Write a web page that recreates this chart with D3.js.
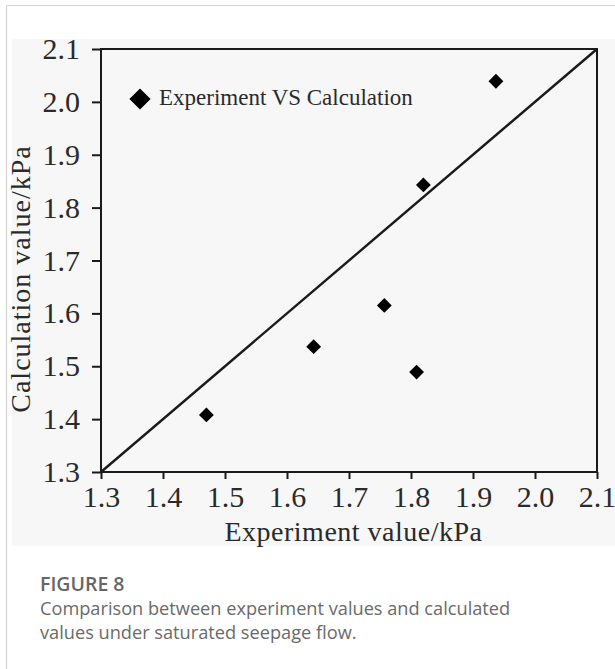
<!DOCTYPE html>
<html>
<head>
<meta charset="utf-8">
<script src="https://cdn.jsdelivr.net/npm/d3@7"></script>
<style>
  html, body { margin: 0; padding: 0; background: #fff; }
  svg { display: block; }
  .tick text { font-family: "Liberation Serif", "Times New Roman", serif; fill: #2a2a2a; }
</style>
</head>
<body>
<div id="vis"></div>
<script>
// data
var experiment  = [1.470, 1.643, 1.757, 1.809, 1.820, 1.937];
var calculation = [1.408, 1.537, 1.615, 1.489, 1.843, 2.039];
var tickValues  = [1.3, 1.4, 1.5, 1.6, 1.7, 1.8, 1.9, 2.0, 2.1];
var lineEnds    = [1.3, 2.1];
var legendLabel = "Experiment VS Calculation";
var xTitle = "Experiment value/kPa";
var yTitle = "Calculation value/kPa";
var captionHead = "FIGURE 8";
var captionLines = ["Comparison between experiment values and calculated",
                    "values under saturated seepage flow."];

var width = 615, height = 669;
var ink = "#1a1a1a";

var svg = d3.select("#vis").append("svg")
    .attr("width", width)
    .attr("height", height);

// page frame lines + grey figure panel
svg.append("line").attr("x1", 6.5).attr("x2", width).attr("y1", 5.5).attr("y2", 5.5)
    .attr("stroke", "#d2d2d2").attr("stroke-width", 1.2);
svg.append("line").attr("x1", 6.5).attr("x2", 6.5).attr("y1", 5.5).attr("y2", height)
    .attr("stroke", "#d2d2d2").attr("stroke-width", 1.2);
svg.append("rect").attr("x", 12).attr("y", 39).attr("width", width - 12).attr("height", 507)
    .attr("fill", "#f7f7f7");

var x = d3.scaleLinear().domain([1.3, 2.1]).range([101, 597]);
var y = d3.scaleLinear().domain([1.3, 2.1]).range([472, 49]);

var g = svg.append("g");

// x axis
var xAxis = g.append("g")
    .attr("transform", "translate(0," + y(1.3) + ")")
    .call(d3.axisBottom(x).tickValues(tickValues).tickFormat(d3.format(".1f"))
        .tickSize(7).tickSizeOuter(0).tickPadding(7));
xAxis.selectAll(".tick text").style("font-size", "30px");

// y axis
var yAxis = g.append("g")
    .attr("transform", "translate(" + x(1.3) + ",0)")
    .call(d3.axisLeft(y).tickValues(tickValues).tickFormat(d3.format(".1f"))
        .tickSize(9).tickSizeOuter(0).tickPadding(12));
yAxis.selectAll(".tick text").style("font-size", "30px");

g.selectAll(".domain").remove();
g.selectAll(".tick line").attr("stroke", ink).attr("stroke-width", 2);

// plot frame
g.append("rect")
    .attr("x", x(1.3)).attr("y", y(2.1))
    .attr("width", x(2.1) - x(1.3)).attr("height", y(1.3) - y(2.1))
    .attr("fill", "none").attr("stroke", ink).attr("stroke-width", 2);

// 1:1 line
g.append("line")
    .attr("x1", x(lineEnds[0])).attr("y1", y(lineEnds[0]))
    .attr("x2", x(lineEnds[1])).attr("y2", y(lineEnds[1]))
    .attr("stroke", ink).attr("stroke-width", 2.4);

// points
var diamond = d3.symbol().type(d3.symbolSquare).size(110);
g.selectAll(".pt").data(experiment).enter()
    .append("path")
    .attr("class", "pt")
    .attr("d", diamond)
    .attr("fill", "#000")
    .attr("transform", function(d, i){ return "translate(" + x(d) + "," + y(calculation[i]) + ") rotate(45)"; });

// legend
g.append("path")
    .attr("d", d3.symbol().type(d3.symbolSquare).size(225))
    .attr("fill", "#000")
    .attr("transform", "translate(140,99) rotate(45)");
g.append("text")
    .attr("x", 159).attr("y", 105)
    .style("font-family", "'Liberation Serif', 'Times New Roman', serif")
    .style("font-size", "23px")
    .attr("fill", "#2a2a2a")
    .text(legendLabel);

// axis titles
g.append("text")
    .attr("x", 353.5).attr("y", 541)
    .attr("text-anchor", "middle")
    .style("font-family", "'Liberation Serif', 'Times New Roman', serif")
    .style("font-size", "28px")
    .style("letter-spacing", "0.5px")
    .attr("fill", "#2a2a2a")
    .text(xTitle);
g.append("text")
    .attr("transform", "translate(30,279) rotate(-90)")
    .attr("text-anchor", "middle")
    .style("font-family", "'Liberation Serif', 'Times New Roman', serif")
    .style("font-size", "28px")
    .style("letter-spacing", "1px")
    .attr("fill", "#2a2a2a")
    .text(yTitle);

// caption
svg.append("text")
    .attr("x", 40).attr("y", 591)
    .style("font-family", "'Open Sans', sans-serif")
    .style("font-size", "19.5px")
    .style("font-weight", "600")
    .attr("fill", "#666")
    .text(captionHead);
svg.selectAll(".cap").data(captionLines).enter()
    .append("text")
    .attr("class", "cap")
    .attr("x", 40)
    .attr("y", function(d, i){ return 615 + i * 23.5; })
    .style("font-family", "'Open Sans', sans-serif")
    .style("font-size", "18.2px")
    .attr("fill", "#6a6a6a")
    .text(function(d){ return d; });
</script>
</body>
</html>
